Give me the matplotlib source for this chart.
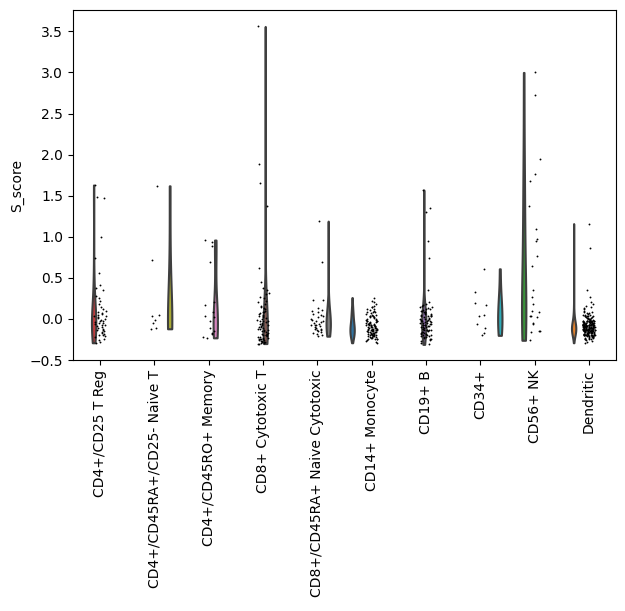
import numpy as np
import matplotlib
matplotlib.use("Agg")
import matplotlib.pyplot as plt
import matplotlib.colors as mcolors
import colorsys

categories = ["CD4+/CD25 T Reg", "CD4+/CD45RA+/CD25- Naive T", "CD4+/CD45RO+ Memory",
              "CD8+ Cytotoxic T", "CD8+/CD45RA+ Naive Cytotoxic", "CD14+ Monocyte",
              "CD19+ B", "CD34+", "CD56+ NK", "Dendritic"]

treg = [1.63, 1.49, 1.47, 1.00, 0.74, 0.56, 0.41, 0.38, 0.35, 0.28, 0.25, 0.22, 0.18, 0.15,
        0.12, 0.10, 0.08, 0.07, 0.06, 0.05, 0.04, 0.03, 0.02, 0.01, 0.00, -0.01, -0.02, -0.03,
        -0.04, -0.05, -0.05, -0.06, -0.07, -0.08, -0.09, -0.10, -0.11, -0.12, -0.13, -0.14,
        -0.15, -0.16, -0.17, -0.18, -0.19, -0.20, -0.21, -0.22, -0.24, -0.26, -0.28, -0.29]
naive_t = [1.62, 0.72, 0.05, 0.03, -0.01, -0.05, -0.11, -0.12]
memory = [0.96, 0.94, 0.89, 0.69, 0.21, 0.17, 0.08, 0.04, 0.02, -0.03, -0.11, -0.15, -0.17,
          -0.18, -0.22, -0.23]
cytotoxic = [3.56, 1.89, 1.65, 1.37, 0.62, 0.45, 0.38, 0.35, 0.32, 0.30, 0.27, 0.25, 0.22,
             0.20, 0.18, 0.15, 0.13, 0.12, 0.10, 0.09, 0.08, 0.06, 0.05, 0.04, 0.03, 0.02,
             0.01, 0.00, -0.01, -0.02, -0.03, -0.04, -0.05, -0.06, -0.07, -0.08, -0.09, -0.10,
             -0.11, -0.12, -0.13, -0.14, -0.15, -0.16, -0.17, -0.18, -0.19, -0.20, -0.21,
             -0.22, -0.23, -0.24, -0.25, -0.26, -0.27, -0.28, -0.29, -0.30, -0.15, -0.18,
             -0.20, -0.22, -0.24, -0.25, -0.27, -0.28, -0.29, -0.30, -0.02, -0.06, -0.10,
             0.07, 0.16, -0.12, -0.19, -0.23, -0.26, -0.28]
naive_cyto = [1.19, 0.69, 0.23, 0.23, 0.13, 0.11, 0.10, 0.08, 0.06, 0.05, 0.03, 0.02, 0.00,
              -0.01, -0.03, -0.04, -0.05, -0.06, -0.07, -0.08, -0.09, -0.10, -0.11, -0.12,
              -0.13, -0.14, -0.15, -0.17, -0.18, -0.20, -0.21, -0.02, -0.07, -0.12, -0.16]
monocyte = [0.26, 0.22, 0.20, 0.18, 0.16, 0.15, 0.14, 0.12, 0.11, 0.10, 0.09, 0.08, 0.07,
            0.06, 0.05, 0.05, 0.04, 0.03, 0.03, 0.02, 0.01, 0.00, 0.00, -0.01, -0.02, -0.02,
            -0.03, -0.04, -0.04, -0.05, -0.05, -0.06, -0.06, -0.07, -0.07, -0.08, -0.08,
            -0.09, -0.09, -0.10, -0.10, -0.11, -0.11, -0.12, -0.12, -0.13, -0.13, -0.14,
            -0.14, -0.15, -0.15, -0.16, -0.16, -0.17, -0.17, -0.18, -0.18, -0.19, -0.19,
            -0.20, -0.20, -0.21, -0.21, -0.22, -0.22, -0.23, -0.24, -0.25, -0.26, -0.27,
            -0.28, -0.29, -0.06, -0.08, -0.10, -0.12, -0.14, -0.16, -0.18, -0.20, -0.07,
            -0.09, -0.11, -0.13, -0.15, -0.17, -0.19, -0.21, -0.23, -0.25, -0.03, -0.01,
            0.02, 0.04, 0.08, 0.12, -0.10, -0.12, -0.14, -0.16, -0.18, -0.22, -0.24, -0.05]
b_cell = [1.57, 1.35, 1.30, 0.95, 0.74, 0.35, 0.20, 0.18, 0.17, 0.16, 0.15, 0.14, 0.13,
          0.12, 0.11, 0.10, 0.09, 0.08, 0.07, 0.06, 0.05, 0.05, 0.04, 0.03, 0.03, 0.02, 0.01,
          0.00, 0.00, -0.01, -0.02, -0.03, -0.03, -0.04, -0.05, -0.05, -0.06, -0.07, -0.07,
          -0.08, -0.09, -0.10, -0.10, -0.11, -0.12, -0.13, -0.13, -0.14, -0.15, -0.16, -0.17,
          -0.18, -0.19, -0.20, -0.21, -0.22, -0.23, -0.24, -0.25, -0.27, -0.29, -0.31,
          0.12, 0.08, 0.04, 0.00, -0.02, -0.04, -0.06, -0.08, -0.10, -0.12, -0.14, -0.16,
          -0.18, -0.20, -0.22, -0.26, 0.10, 0.06, -0.01, -0.05, -0.09, -0.13, -0.17, -0.21]
cd34 = [0.61, 0.33, 0.19, 0.17, 0.05, 0.04, -0.06, -0.11, -0.17, -0.20]
nk = [3.00, 2.72, 1.95, 1.77, 1.68, 1.38, 1.10, 0.97, 0.95, 0.76, 0.64, 0.35, 0.27, 0.18,
      0.10, 0.08, 0.04, 0.03, 0.02, -0.05, -0.06, -0.15, -0.15, -0.16, -0.26]
dendritic = [1.16, 0.86, 0.35, 0.27, 0.20, 0.18, 0.16, 0.15, 0.13, 0.12, 0.10, 0.09, 0.08,
             0.07, 0.07, 0.06, 0.05, 0.05, 0.04, 0.04, 0.03, 0.03, 0.02, 0.02, 0.01, 0.01,
             0.00, 0.00, 0.00, -0.01, -0.01, -0.02, -0.02, -0.02, -0.03, -0.03, -0.03, -0.04,
             -0.04, -0.04, -0.05, -0.05, -0.05, -0.05, -0.06, -0.06, -0.06, -0.06, -0.07,
             -0.07, -0.07, -0.07, -0.08, -0.08, -0.08, -0.08, -0.09, -0.09, -0.09, -0.09,
             -0.10, -0.10, -0.10, -0.10, -0.11, -0.11, -0.11, -0.11, -0.12, -0.12, -0.12,
             -0.12, -0.13, -0.13, -0.13, -0.13, -0.14, -0.14, -0.14, -0.14, -0.15, -0.15,
             -0.15, -0.15, -0.16, -0.16, -0.16, -0.16, -0.17, -0.17, -0.17, -0.17, -0.18,
             -0.18, -0.18, -0.19, -0.19, -0.19, -0.20, -0.20, -0.20, -0.21, -0.21, -0.21,
             -0.22, -0.22, -0.23, -0.23, -0.24, -0.24, -0.25, -0.26, -0.27, -0.28, -0.29,
             -0.08, -0.10, -0.12, -0.14, -0.16, -0.18, -0.11, -0.13, -0.15, -0.09, -0.07,
             -0.05, -0.03, -0.17, -0.19, -0.21, -0.12, -0.14, -0.10, -0.06,
             -0.01, -0.02, -0.03, -0.04, -0.05, -0.06, -0.07, -0.08, -0.09, -0.10, -0.11,
             -0.12, -0.13, -0.14, -0.15, -0.16, -0.17, -0.18, -0.19, -0.20, -0.21, -0.22,
             -0.23, -0.24, -0.02, -0.04, -0.06, -0.08, -0.10, -0.12, -0.14, -0.16, -0.18,
             -0.20, -0.22, -0.03, -0.05, -0.07, -0.09, -0.11, -0.13, -0.15, -0.17, -0.19,
             -0.08, -0.09, -0.10, -0.11, -0.12, -0.13, -0.14, -0.15, -0.16, -0.11, -0.13,
             -0.09, -0.07, -0.15, -0.17, 0.01, 0.03, 0.05, -0.12, -0.14, -0.10, -0.16,
             -0.06, -0.04, -0.18, -0.20, -0.12, -0.14, -0.10, -0.08]

groups = [treg, naive_t, memory, cytotoxic, naive_cyto, monocyte, b_cell, cd34, nk, dendritic]

# hue dodge index (palette index) per category
hue_index = [3, 8, 6, 5, 7, 0, 4, 9, 2, 1]
base_colors = ["#1f77b4", "#ff7f0e", "#2ca02c", "#d62728", "#9467bd",
               "#8c564b", "#e377c2", "#7f7f7f", "#bcbd22", "#17becf"]


def desaturate(c, prop=0.75):
    r, g, b = mcolors.to_rgb(c)
    h, l, s = colorsys.rgb_to_hls(r, g, b)
    return colorsys.hls_to_rgb(h, l, s * prop)


fig = plt.figure(figsize=(6.25, 6.11), dpi=100)
ax = fig.add_axes([0.1168, 0.4108, 0.8688, 0.5728])

n_hue = 10
dodge_w = 0.8 / n_hue
positions = [i + (hue_index[i] - (n_hue - 1) / 2) * dodge_w for i in range(len(groups))]

parts = ax.violinplot(groups, positions=positions, widths=dodge_w, showextrema=False,
                      showmeans=False, showmedians=False, bw_method="scott", points=200)
for i, body in enumerate(parts["bodies"]):
    body.set_facecolor(desaturate(base_colors[hue_index[i]]))
    body.set_edgecolor("#3f3f3f")
    body.set_linewidth(1.5)
    body.set_alpha(1)
    body.set_zorder(2)

rng = np.random.default_rng(3)
for i, g in enumerate(groups):
    xs = i + rng.uniform(-0.11, 0.11, size=len(g))
    ax.scatter(xs, g, s=1.8, c="black", linewidths=0, zorder=3)

ax.set_xlim(-0.5, 9.5)
ax.set_ylim(-0.5, 3.76)
ax.set_xticks(range(len(categories)))
ax.set_xticklabels(categories, rotation=90)
ax.set_yticks([-0.5, 0.0, 0.5, 1.0, 1.5, 2.0, 2.5, 3.0, 3.5])
ax.set_ylabel("S_score")

fig.savefig("out.png", dpi=100)
